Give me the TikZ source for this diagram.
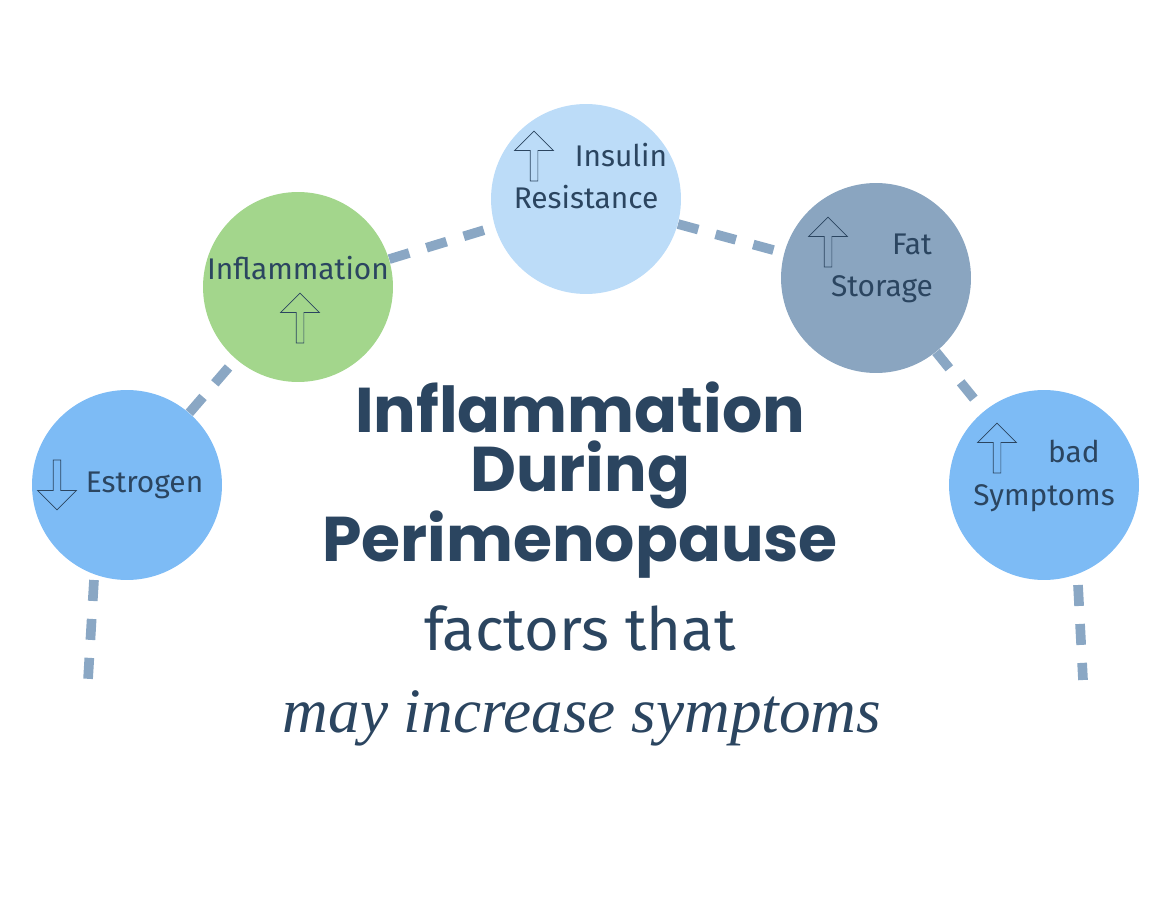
\documentclass[tikz,border=0pt]{standalone}
\usepackage{fontspec}
\setmainfont{Poppins}
\newfontfamily\handfont{Fira Sans}
\newfontfamily\cursfont{Liberation Serif}
\usetikzlibrary{shapes.arrows,positioning,backgrounds}
\definecolor{dashblue}{HTML}{8AA7C4}
\definecolor{navy}{HTML}{2B4560}
\definecolor{skyblue}{HTML}{7DBBF5}
\definecolor{leafgreen}{HTML}{A3D68C}
\definecolor{paleblue}{HTML}{BCDCF8}
\definecolor{slateblue}{HTML}{8AA5C0}

\begin{document}
\begin{tikzpicture}[x=0.02cm,y=-0.02cm,
    factor/.style={circle, minimum size=3.8cm, inner sep=0pt, text=navy, font=\handfont\fontsize{17}{22}\selectfont, align=center},
    link/.style={draw=dashblue, line width=5.5pt, dash pattern=on 0.42cm off 0.36cm},
    updown/.style={single arrow, draw=navy, thin, fill=none, minimum height=1.0cm, minimum width=0.78cm, single arrow head extend=0.1cm, inner sep=0.5pt}
]
\useasboundingbox (0,0) rectangle (1175,901);

% Factors
\node[factor, fill=skyblue] (estr) at (127,485) {\hspace{0.7cm}Estrogen};
\node[factor, fill=leafgreen] (infl) at (298,287) {};
\node[factor, fill=paleblue] (insu) at (586,199) {};
\node[factor, fill=slateblue] (fat) at (876,278) {};
\node[factor, fill=skyblue] (bad) at (1044,485) {};

\node[text=navy, font=\handfont\fontsize{17}{22}\selectfont] (infltxt) at (298,268) {Inflammation};
\node[text=navy, font=\handfont\fontsize{17}{22}\selectfont, align=center] (insutxt) at (586,176) {\hspace{1.4cm}Insulin\\[2pt]Resistance};
\node[text=navy, font=\handfont\fontsize{17}{22}\selectfont, align=center] (fattxt) at (882,268) {\hspace{1.2cm}Fat\\[2pt]Storage};
\node[text=navy, font=\handfont\fontsize{17}{22}\selectfont, align=center] (badtxt) at (1044,476) {\hspace{1.2cm}bad\\[2pt]Symptoms};

% Arrows
\node[updown, shape border rotate=270] (a1) at (57,483) {};
\node[updown, shape border rotate=90] (a2) at (300,320) {};
\node[updown, shape border rotate=90] (a3) at (534,158) {};
\node[updown, shape border rotate=90] (a4) at (828,244) {};
\node[updown, shape border rotate=90] (a5) at (997,450) {};

\coordinate (lend) at (88,680);
\coordinate (rend) at (1083,680);

% Dashed arc
\begin{scope}[on background layer]
\draw[link] (estr) -- (infl);
\draw[link] (infl) -- (insu);
\draw[link] (insu) -- (fat);
\draw[link] (fat) -- (bad);
\draw[link] (estr.center) ++(-33,95) -- (lend);
\draw[link] (bad.center) ++(34,100) -- (rend);
\end{scope}

% Title
\node[text=navy, font=\bfseries\fontsize{36}{34}\selectfont, align=center] (title) at (580,480) {Inflammation\\During\\Perimenopause};
\node[text=navy, font=\handfont\fontsize{34}{40}\selectfont] (sub1) at (580,628) {factors that};
\node[text=navy, font=\cursfont\itshape\fontsize{36}{40}\selectfont] (sub2) at (582,718) {may increase symptoms};
\end{tikzpicture}
\end{document}
